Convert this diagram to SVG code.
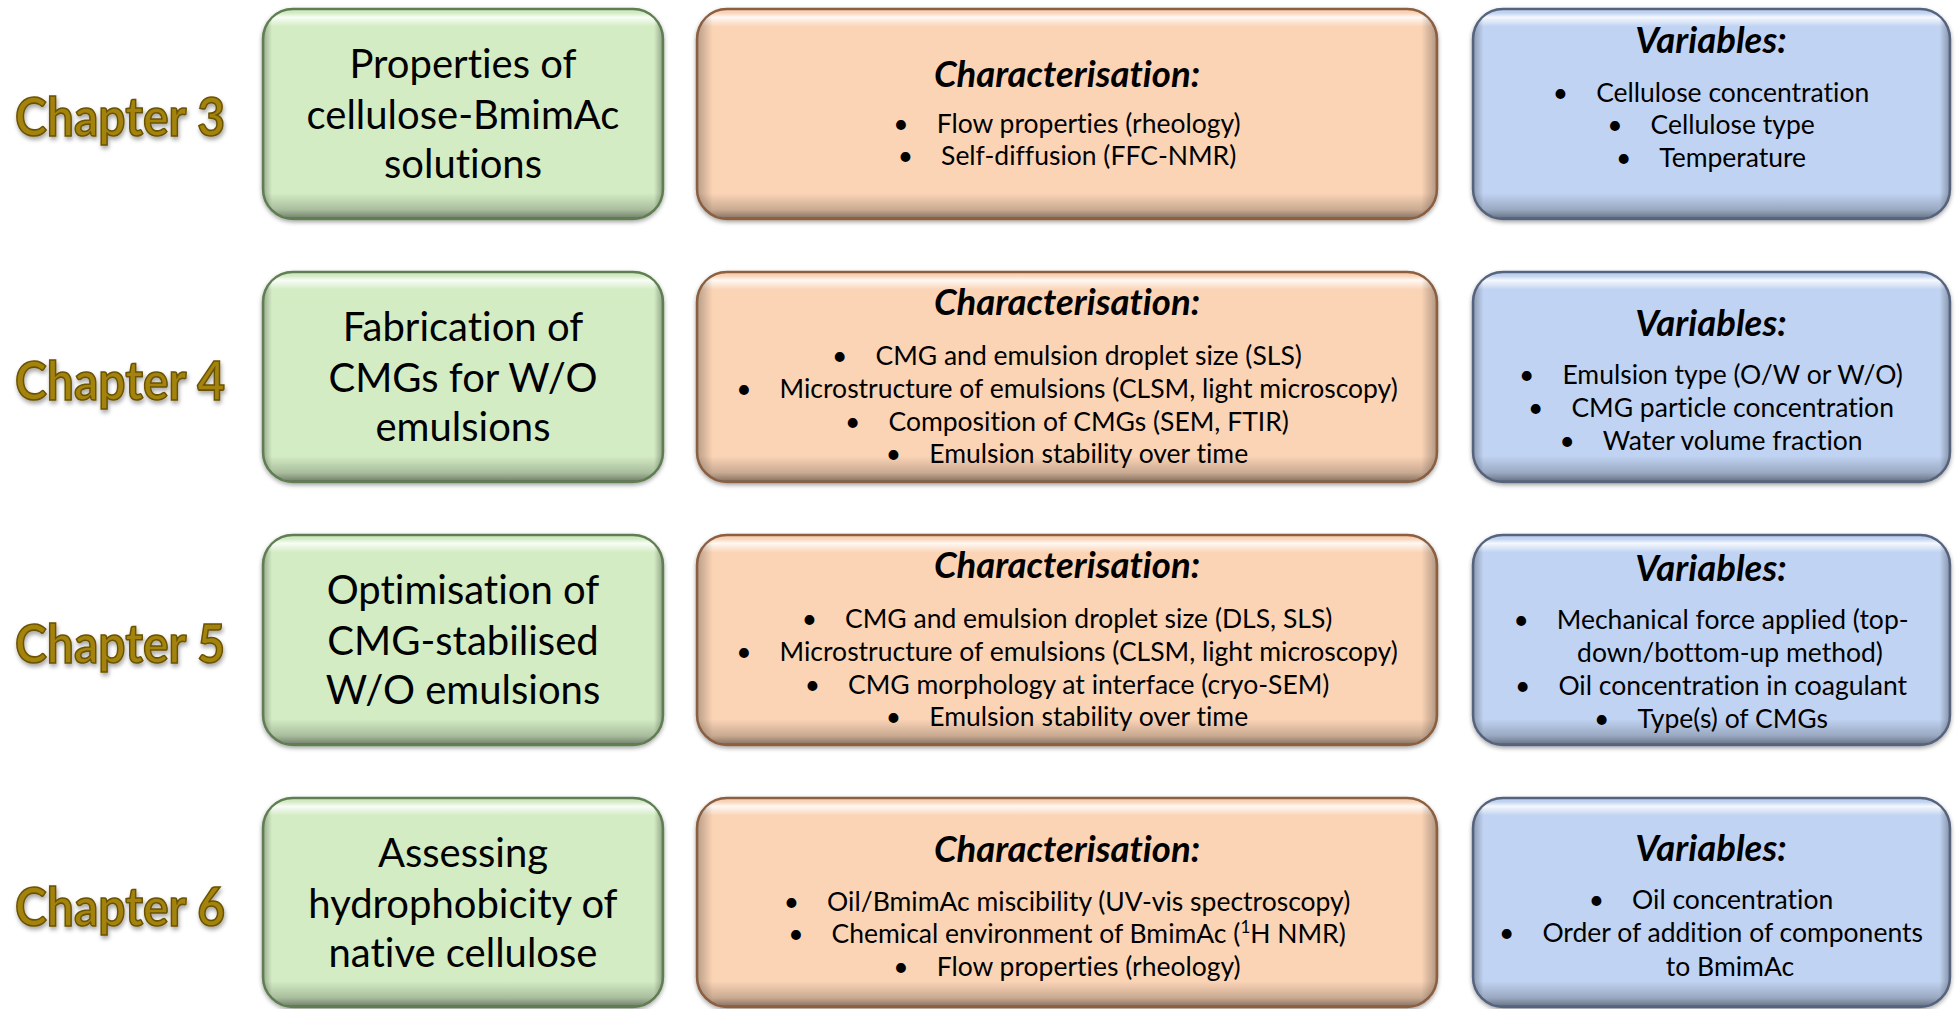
<svg xmlns="http://www.w3.org/2000/svg" width="1957" height="1009" viewBox="0 0 1957 1009">
<defs>
<linearGradient id="vbevel" x1="0" y1="0" x2="0" y2="1">
<stop offset="0" stop-color="#000" stop-opacity="0"/>
<stop offset="0.015" stop-color="#fff" stop-opacity="0.05"/>
<stop offset="0.035" stop-color="#fff" stop-opacity="0.85"/>
<stop offset="0.08" stop-color="#fff" stop-opacity="0"/>
<stop offset="0.88" stop-color="#000" stop-opacity="0"/>
<stop offset="0.96" stop-color="#000" stop-opacity="0.2"/>
<stop offset="1" stop-color="#000" stop-opacity="0.45"/>
</linearGradient>
<linearGradient id="hbevel" x1="0" y1="0" x2="1" y2="0">
<stop offset="0" stop-color="#000" stop-opacity="0.25"/>
<stop offset="0.02" stop-color="#000" stop-opacity="0"/>
<stop offset="0.98" stop-color="#000" stop-opacity="0"/>
<stop offset="1" stop-color="#000" stop-opacity="0.28"/>
</linearGradient>
<filter id="soft" x="-5%" y="-5%" width="110%" height="115%">
<feGaussianBlur in="SourceAlpha" stdDeviation="2"/>
<feOffset dx="0" dy="1.5" result="b"/>
<feFlood flood-color="#000" flood-opacity="0.35"/>
<feComposite in2="b" operator="in"/>
<feMerge><feMergeNode/><feMergeNode in="SourceGraphic"/></feMerge>
</filter>
<filter id="glow" x="-10%" y="-20%" width="120%" height="150%">
<feGaussianBlur in="SourceAlpha" stdDeviation="2"/>
<feOffset dx="1" dy="2.5" result="b"/>
<feFlood flood-color="#000" flood-opacity="0.35"/>
<feComposite in2="b" operator="in"/>
<feMerge><feMergeNode/><feMergeNode in="SourceGraphic"/></feMerge>
</filter>
</defs>
<style>
.g{fill:#D3ECC4;stroke:#5F7F52;stroke-width:2.5}
.o{fill:#FBD4B6;stroke:#8C5E3F;stroke-width:2.5}
.b{fill:#C0D3F2;stroke:#55647F;stroke-width:2.5}
.ov1{fill:url(#vbevel)}
.ov2{fill:url(#hbevel)}
text{font-family:Lato,"Liberation Sans",sans-serif;fill:#000;font-variant-ligatures:none;font-feature-settings:"liga" 0}
.ch{font-weight:bold;font-size:53px;fill:#A4830C;stroke:#6A5200;stroke-width:1.6}
.t{font-size:40px;text-anchor:middle}
.h{font-size:36.5px;font-weight:bold;font-style:italic;text-anchor:middle}
.l{font-size:26.5px;text-anchor:middle}
</style>
<rect width="1957" height="1009" fill="#fff"/>

<g id="connectors"></g>

<g id="chapter3-label"><text class="ch" x="15" y="136" textLength="210" lengthAdjust="spacingAndGlyphs" filter="url(#glow)">Chapter 3</text></g>
<g id="chapter4-label"><text class="ch" x="15" y="400" textLength="210" lengthAdjust="spacingAndGlyphs" filter="url(#glow)">Chapter 4</text></g>
<g id="chapter5-label"><text class="ch" x="15" y="663" textLength="210" lengthAdjust="spacingAndGlyphs" filter="url(#glow)">Chapter 5</text></g>
<g id="chapter6-label"><text class="ch" x="15" y="926" textLength="210" lengthAdjust="spacingAndGlyphs" filter="url(#glow)">Chapter 6</text></g>

<!-- Row 1 -->
<g id="ch3-topic">
<rect class="g" x="263" y="9" width="400" height="210" rx="30" filter="url(#soft)"/>
<rect class="ov1" x="264" y="10" width="398" height="208" rx="29"/>
<rect class="ov2" x="264" y="10" width="398" height="208" rx="29"/>
<text class="t" x="463" y="78">Properties of</text>
<text class="t" x="463" y="129">cellulose-BmimAc</text>
<text class="t" x="463" y="178">solutions</text>
</g>
<g id="ch3-characterisation">
<rect class="o" x="697" y="9" width="740" height="210" rx="30" filter="url(#soft)"/>
<rect class="ov1" x="698" y="10" width="738" height="208" rx="29"/>
<rect class="ov2" x="698" y="10" width="738" height="208" rx="29"/>
<text class="h" x="1067" y="87">Characterisation:</text>
<text class="l" x="1067" y="133"><tspan>•</tspan><tspan dx="28">Flow properties (rheology)</tspan></text>
<text class="l" x="1067" y="165"><tspan>•</tspan><tspan dx="28">Self-diffusion (FFC-NMR)</tspan></text>
</g>
<g id="ch3-variables">
<rect class="b" x="1473" y="9" width="477" height="210" rx="30" filter="url(#soft)"/>
<rect class="ov1" x="1474" y="10" width="475" height="208" rx="29"/>
<rect class="ov2" x="1474" y="10" width="475" height="208" rx="29"/>
<text class="h" x="1711" y="53">Variables:</text>
<text class="l" x="1711" y="102"><tspan>•</tspan><tspan dx="28">Cellulose concentration</tspan></text>
<text class="l" x="1711" y="134"><tspan>•</tspan><tspan dx="28">Cellulose type</tspan></text>
<text class="l" x="1711" y="167"><tspan>•</tspan><tspan dx="28">Temperature</tspan></text>
</g>

<!-- Row 2 -->
<g id="ch4-topic">
<rect class="g" x="263" y="272" width="400" height="210" rx="30" filter="url(#soft)"/>
<rect class="ov1" x="264" y="273" width="398" height="208" rx="29"/>
<rect class="ov2" x="264" y="273" width="398" height="208" rx="29"/>
<text class="t" x="463" y="341">Fabrication of</text>
<text class="t" x="463" y="392">CMGs for W/O</text>
<text class="t" x="463" y="441">emulsions</text>
</g>
<g id="ch4-characterisation">
<rect class="o" x="697" y="272" width="740" height="210" rx="30" filter="url(#soft)"/>
<rect class="ov1" x="698" y="273" width="738" height="208" rx="29"/>
<rect class="ov2" x="698" y="273" width="738" height="208" rx="29"/>
<text class="h" x="1067" y="315">Characterisation:</text>
<text class="l" x="1067" y="365"><tspan>•</tspan><tspan dx="28">CMG and emulsion droplet size (SLS)</tspan></text>
<text class="l" x="1067" y="398"><tspan>•</tspan><tspan dx="28">Microstructure of emulsions (CLSM, light microscopy)</tspan></text>
<text class="l" x="1067" y="431"><tspan>•</tspan><tspan dx="28">Composition of CMGs (SEM, FTIR)</tspan></text>
<text class="l" x="1067" y="463"><tspan>•</tspan><tspan dx="28">Emulsion stability over time</tspan></text>
</g>
<g id="ch4-variables">
<rect class="b" x="1473" y="272" width="477" height="210" rx="30" filter="url(#soft)"/>
<rect class="ov1" x="1474" y="273" width="475" height="208" rx="29"/>
<rect class="ov2" x="1474" y="273" width="475" height="208" rx="29"/>
<text class="h" x="1711" y="336">Variables:</text>
<text class="l" x="1711" y="384"><tspan>•</tspan><tspan dx="28">Emulsion type (O/W or W/O)</tspan></text>
<text class="l" x="1711" y="417"><tspan>•</tspan><tspan dx="28">CMG particle concentration</tspan></text>
<text class="l" x="1711" y="450"><tspan>•</tspan><tspan dx="28">Water volume fraction</tspan></text>
</g>

<!-- Row 3 -->
<g id="ch5-topic">
<rect class="g" x="263" y="535" width="400" height="210" rx="30" filter="url(#soft)"/>
<rect class="ov1" x="264" y="536" width="398" height="208" rx="29"/>
<rect class="ov2" x="264" y="536" width="398" height="208" rx="29"/>
<text class="t" x="463" y="604">Optimisation of</text>
<text class="t" x="463" y="655">CMG-stabilised</text>
<text class="t" x="463" y="704">W/O emulsions</text>
</g>
<g id="ch5-characterisation">
<rect class="o" x="697" y="535" width="740" height="210" rx="30" filter="url(#soft)"/>
<rect class="ov1" x="698" y="536" width="738" height="208" rx="29"/>
<rect class="ov2" x="698" y="536" width="738" height="208" rx="29"/>
<text class="h" x="1067" y="578">Characterisation:</text>
<text class="l" x="1067" y="628"><tspan>•</tspan><tspan dx="28">CMG and emulsion droplet size (DLS, SLS)</tspan></text>
<text class="l" x="1067" y="661"><tspan>•</tspan><tspan dx="28">Microstructure of emulsions (CLSM, light microscopy)</tspan></text>
<text class="l" x="1067" y="694"><tspan>•</tspan><tspan dx="28">CMG morphology at interface (cryo-SEM)</tspan></text>
<text class="l" x="1067" y="726"><tspan>•</tspan><tspan dx="28">Emulsion stability over time</tspan></text>
</g>
<g id="ch5-variables">
<rect class="b" x="1473" y="535" width="477" height="210" rx="30" filter="url(#soft)"/>
<rect class="ov1" x="1474" y="536" width="475" height="208" rx="29"/>
<rect class="ov2" x="1474" y="536" width="475" height="208" rx="29"/>
<text class="h" x="1711" y="581">Variables:</text>
<text class="l" x="1711" y="629"><tspan>•</tspan><tspan dx="28">Mechanical force applied (top-</tspan></text>
<text class="l" x="1730" y="662">down/bottom-up method)</text>
<text class="l" x="1711" y="695"><tspan>•</tspan><tspan dx="28">Oil concentration in coagulant</tspan></text>
<text class="l" x="1711" y="728"><tspan>•</tspan><tspan dx="28">Type(s) of CMGs</tspan></text>
</g>

<!-- Row 4 -->
<g id="ch6-topic">
<rect class="g" x="263" y="798" width="400" height="209" rx="30" filter="url(#soft)"/>
<rect class="ov1" x="264" y="799" width="398" height="207" rx="29"/>
<rect class="ov2" x="264" y="799" width="398" height="207" rx="29"/>
<text class="t" x="463" y="867">Assessing</text>
<text class="t" x="463" y="918">hydrophobicity of</text>
<text class="t" x="463" y="967">native cellulose</text>
</g>
<g id="ch6-characterisation">
<rect class="o" x="697" y="798" width="740" height="209" rx="30" filter="url(#soft)"/>
<rect class="ov1" x="698" y="799" width="738" height="207" rx="29"/>
<rect class="ov2" x="698" y="799" width="738" height="207" rx="29"/>
<text class="h" x="1067" y="862">Characterisation:</text>
<text class="l" x="1067" y="911"><tspan>•</tspan><tspan dx="28">Oil/BmimAc miscibility (UV-vis spectroscopy)</tspan></text>
<text class="l" x="1067" y="943"><tspan>•</tspan><tspan dx="28">Chemical environment of BmimAc (</tspan><tspan font-size="17" dy="-10">1</tspan><tspan dy="10">H NMR)</tspan></text>
<text class="l" x="1067" y="976"><tspan>•</tspan><tspan dx="28">Flow properties (rheology)</tspan></text>
</g>
<g id="ch6-variables">
<rect class="b" x="1473" y="798" width="477" height="209" rx="30" filter="url(#soft)"/>
<rect class="ov1" x="1474" y="799" width="475" height="207" rx="29"/>
<rect class="ov2" x="1474" y="799" width="475" height="207" rx="29"/>
<text class="h" x="1711" y="861">Variables:</text>
<text class="l" x="1711" y="909"><tspan>•</tspan><tspan dx="28">Oil concentration</tspan></text>
<text class="l" x="1711" y="942"><tspan>•</tspan><tspan dx="28">Order of addition of components</tspan></text>
<text class="l" x="1730" y="976">to BmimAc</text>
</g>
</svg>
